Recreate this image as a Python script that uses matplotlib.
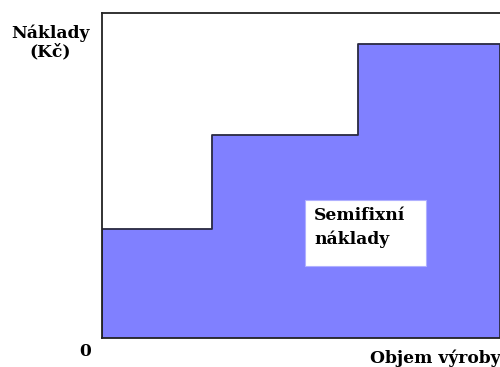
import matplotlib
matplotlib.use("Agg")
import matplotlib.pyplot as plt
from matplotlib.patches import Rectangle

# step edges along the output axis and the cost level of each step
step_edges = [0, 27.6, 64.3, 100]
step_levels = [33.5, 62.5, 90.5]

fill_color = "#8080ff"
edge_color = "#2a2a40"
font = "DejaVu Serif"
fs = 12.3

fig = plt.figure(figsize=(5.0, 3.67), dpi=100)
ax = fig.add_axes([102 / 500, 29 / 367, 1.0, 325 / 367])
ax.set_xlim(0, 100 * 500 / 398)
ax.set_ylim(0, 100)

# semi-fixed costs: each step is a filled block
xs, ys = [step_edges[0]], [0]
for i, lvl in enumerate(step_levels):
    xs += [step_edges[i], step_edges[i + 1]]
    ys += [lvl, lvl]
xs.append(step_edges[-1])
ys.append(0)
ax.fill(xs, ys, color=fill_color, zorder=1)
ax.plot(xs, ys, color=edge_color, lw=1.3, zorder=2)

for side in ["top", "left", "bottom"]:
    ax.spines[side].set_linewidth(1.3)
    ax.spines[side].set_color("#222222")
ax.spines["right"].set_visible(False)
ax.set_xticks([])
ax.set_yticks([])

# label box inside the fill
ax.add_patch(Rectangle((50.9, 22.2), 30.4, 20.3, facecolor="white",
                       edgecolor="#b0b0ff", lw=0.8, zorder=3))
ax.text(53.3, 37.8, "Semifixní", fontsize=fs, fontweight="bold",
        family=font, ha="left", va="center", zorder=4)
ax.text(53.3, 30.3, "náklady", fontsize=fs, fontweight="bold",
        family=font, ha="left", va="center", zorder=4)

fig.text(50 / 500, 1 - 33 / 367, "Náklady", fontsize=fs, fontweight="bold",
         family=font, ha="center", va="center")
fig.text(50 / 500, 1 - 52 / 367, "(Kč)", fontsize=fs, fontweight="bold",
         family=font, ha="center", va="center")
fig.text(85 / 500, 1 - 352 / 367, "0", fontsize=fs, fontweight="bold",
         family=font, ha="center", va="center")
fig.text(500 / 500, 1 - 358 / 367, "Objem výroby", fontsize=fs,
         fontweight="bold", family=font, ha="right", va="center")

fig.savefig("out.png", dpi=100, facecolor="white")
